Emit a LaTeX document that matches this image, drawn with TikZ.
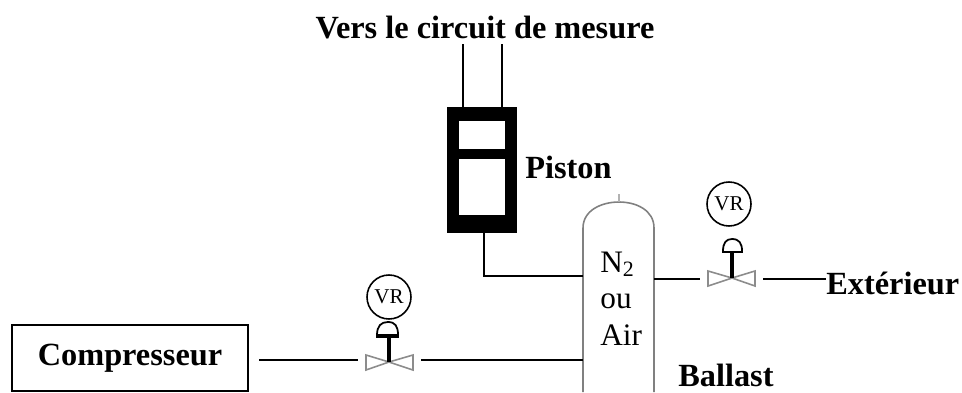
\documentclass[tikz,border=0pt]{standalone}
\usepackage{fontspec}
\setmainfont{Liberation Serif}
\usetikzlibrary{calc}
\tikzset{
  tube/.style={line width=1pt},
  gros/.style={font=\fontsize{18.4}{20}\selectfont\bfseries,inner sep=0pt},
  gaz/.style={font=\fontsize{17.8}{20}\selectfont,inner sep=0pt,anchor=base west},
  vr/.style={draw,circle,line width=0.9pt,minimum size=0.88cm,inner sep=0pt,font=\fontsize{12}{12}\selectfont},
  corps/.style={draw=black!45,line width=0.9pt,fill=white},
  tige/.style={line width=1.8pt},
  bloc/.style={inner sep=0pt,outer sep=0pt}
}
\begin{document}
\begin{tikzpicture}[x=0.02cm,y=-0.02cm]
\useasboundingbox (0,0) rectangle (962,392);
% piston
\node[bloc,fill=black,minimum width=1.4cm,minimum height=2.52cm] (piston)at(482,170){};
\node[bloc,fill=white,minimum width=0.92cm,minimum height=1.88cm] (chambre)at(482,168){};
\node[bloc,fill=black,minimum width=0.92cm,minimum height=0.2cm] (tete)at(482,154){};
\node[gros] (titre)at(485,28){Vers le circuit de mesure};
\node[gros,anchor=west] (lpiston)at(525,167){Piston};
\coordinate (r1) at(463,44);
\coordinate (r2) at(502,44);
\coordinate (s1) at(463,107);
\coordinate (s2) at(502,107);
\coordinate (s3) at(484,233);
\coordinate (coude) at(484,276);
\draw[tube] (r1) -- (s1);
\draw[tube] (r2) -- (s2);
% ballast
\coordinate (bg) at(583,392);
\coordinate (bd) at(654,392);
\coordinate (eg) at(583,228);
\coordinate (ed) at(654,228);
\coordinate (sommet) at(619,202);
\coordinate (pointe) at(619,194);
\coordinate (e1) at(583,276);
\coordinate (e2) at(583,360);
\coordinate (e3) at(654,279);
\draw[black!50,line width=0.9pt] (bg) -- (eg) .. controls (583,210) and (602,202) .. (sommet) .. controls (636,202) and (654,210) .. (ed) -- (bd);
\draw[black!30,line width=0.9pt] (pointe) -- (sommet);
\node[gaz] (n2)at(600,272){N\textsubscript{2}};
\node[gaz] (ou)at(600,308){ou};
\node[gaz] (air)at(600,345){Air};
\node[gros,anchor=base west] (lballast)at(678,386){Ballast};
\draw[tube] (s3) -- (coude) -- (e1);
% compresseur
\node[draw,line width=1.1pt,bloc,gros,minimum width=4.72cm,minimum height=1.32cm] (comp)at(130,358){Compresseur};
% vanne gauche
\node[vr] (vr1)at(389,297){VR};
\coordinate (v1) at(389,362);
\coordinate (v1g) at(358,360);
\coordinate (v1d) at(421,360);
\coordinate (c1) at(259,360);
\draw[corps] (v1) -- (366,355) -- (366,370) -- cycle;
\draw[corps] (v1) -- (413,355) -- (413,370) -- cycle;
\draw[tige] (v1) -- (389,335);
\draw[tube] (377,335) .. controls (377,326) and (381,322) .. (388,322) .. controls (395,322) and (398,326) .. (398,335);
\draw[tige] (376,336) -- (399,336);
\draw[tube] (c1) -- (v1g);
\draw[tube] (v1d) -- (e2);
% vanne droite
\node[vr] (vr2)at(729,204){VR};
\coordinate (v2) at(732,278);
\coordinate (v2g) at(700,279);
\coordinate (v2d) at(763,279);
\draw[corps] (v2) -- (708,271) -- (708,286) -- cycle;
\draw[corps] (v2) -- (755,271) -- (755,286) -- cycle;
\draw[tige] (v2) -- (732,252);
\draw[tube] (723,251) .. controls (723,243) and (726,239) .. (732,239) .. controls (739,239) and (742,243) .. (742,251);
\draw[tube] (722,252) -- (743,252);
\node[gros,anchor=west] (lext)at(826,283){Extérieur};
\draw[tube] (e3) -- (v2g);
\draw[tube] (v2d) -- (lext.west|-v2d);
\end{tikzpicture}
\end{document}
